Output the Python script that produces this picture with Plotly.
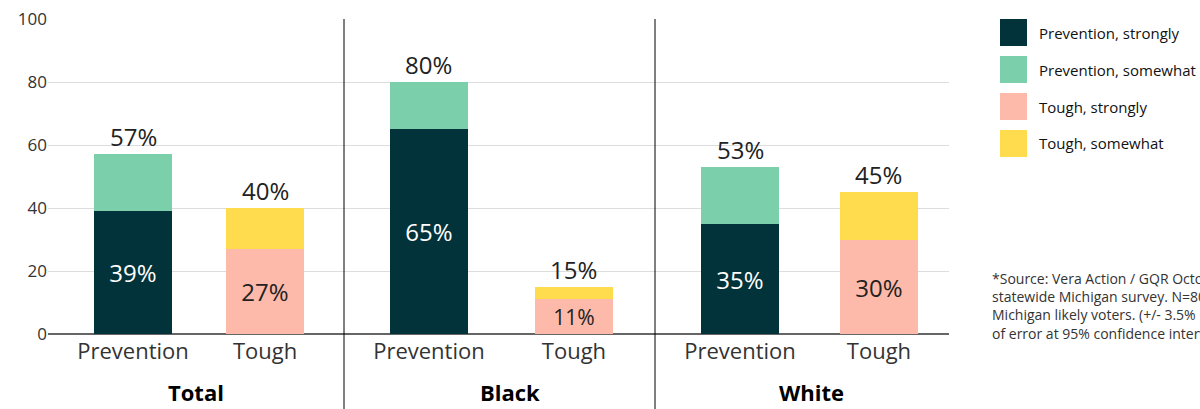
import plotly.graph_objects as go
from plotly.subplots import make_subplots

# Survey results: share preferring each approach, by group
groups = ["Total", "Black", "White"]
categories = ["Prevention", "Tough"]
prevention_strongly = [39, 65, 35]
prevention_total = [57, 80, 53]
tough_strongly = [27, 11, 30]
tough_total = [40, 15, 45]

series_names = ["Prevention, strongly", "Prevention, somewhat",
                "Tough, strongly", "Tough, somewhat"]
series_colors = ["#02323A", "#7BCFAB", "#FDB9A9", "#FEDC4E"]

y_ticks = [0, 20, 40, 60, 80, 100]

source_note = ("*Source: Vera Action / GQR October<br>"
               "statewide Michigan survey. N=800<br>"
               "Michigan likely voters. (+/- 3.5% margin<br>"
               "of error at 95% confidence interval)")

FONT = "Open Sans"
W, H = 1200, 409
L, R, T, B = 48, 251, 19, 75

# Pixel edges of the three panels, converted to paper fractions
panel_px = [48, 344, 655, 949]
pw = W - L - R
ph = H - T - B
edges = [(p - L) / pw for p in panel_px]
x_ranges = [[-0.644, 1.598], [-0.586, 1.559], [-0.612, 1.504]]
bar_widths = [0.59, 0.538, 0.56]
group_label_x = [0.5, 0.534, 0.534]


def py_to_paper(py):
    return (H - B - py) / ph


def px_to_paper(px):
    return (px - L) / pw


fig = make_subplots(rows=1, cols=3, shared_yaxes=True, horizontal_spacing=0)

for i, g in enumerate(groups):
    col = i + 1
    w = bar_widths[i]
    fig.add_trace(go.Bar(
        x=[categories[0]], y=[prevention_strongly[i]], width=w,
        marker=dict(color=series_colors[0], line=dict(width=0)),
        text=[f"{prevention_strongly[i]}%"], textposition="inside",
        insidetextanchor="middle", textangle=0,
        textfont=dict(family=FONT, size=24, color="#FFFFFF"),
        name=series_names[0], showlegend=False, hoverinfo="skip"), row=1, col=col)
    fig.add_trace(go.Bar(
        x=[categories[0]], y=[prevention_total[i] - prevention_strongly[i]], width=w,
        marker=dict(color=series_colors[1], line=dict(width=0)),
        name=series_names[1], showlegend=False, hoverinfo="skip"), row=1, col=col)
    fig.add_trace(go.Bar(
        x=[categories[1]], y=[tough_strongly[i]], width=w,
        marker=dict(color=series_colors[2], line=dict(width=0)),
        text=[f"{tough_strongly[i]}%"], textposition="inside",
        insidetextanchor="middle", textangle=0,
        textfont=dict(family=FONT, size=24, color="#222222"),
        name=series_names[2], showlegend=False, hoverinfo="skip"), row=1, col=col)
    fig.add_trace(go.Bar(
        x=[categories[1]], y=[tough_total[i] - tough_strongly[i]], width=w,
        marker=dict(color=series_colors[3], line=dict(width=0)),
        name=series_names[3], showlegend=False, hoverinfo="skip"), row=1, col=col)

    xa = "x" if i == 0 else f"x{col}"
    ya = "y" if i == 0 else f"y{col}"
    # Totals above each stacked bar
    for cat, tot in zip(categories, [prevention_total[i], tough_total[i]]):
        fig.add_annotation(x=cat, y=tot, xref=xa, yref=ya, text=f"{tot}%",
                           showarrow=False, yanchor="bottom", yshift=-1,
                           font=dict(family=FONT, size=24, color="#222222"))
    # Group name under the panel
    fig.add_annotation(x=group_label_x[i], y=py_to_paper(409), xref=f"{xa} domain",
                       yref="paper", text=f"<b>{g}</b>", showarrow=False,
                       yanchor="bottom",
                       font=dict(family=FONT, size=22, color="#000000"))

    fig.update_xaxes(row=1, col=col, type="category", categoryorder="array",
                     categoryarray=categories, range=x_ranges[i],
                     domain=[edges[i], edges[i + 1]], automargin=False,
                     showgrid=False, showline=False, ticks="",
                     ticklabelstandoff=2,
                     tickfont=dict(family=FONT, size=22, color="#333333"))
    fig.update_yaxes(row=1, col=col, range=[0, 100], tickvals=y_ticks,
                     domain=[0, 1], automargin=False,
                     showgrid=True, gridcolor="#DDDDDD", gridwidth=1,
                     zeroline=True, zerolinecolor="#666666", zerolinewidth=2,
                     showline=False, ticks="",
                     showticklabels=(i == 0),
                     tickfont=dict(family=FONT, size=17, color="#333333"))

# Vertical dividers between panels
for e in edges[1:3]:
    fig.add_shape(type="line", xref="paper", yref="paper",
                  x0=e, x1=e, y0=1, y1=py_to_paper(410),
                  line=dict(color="#000000", width=1))

# Legend drawn as square swatches with labels
for k, (nm, c) in enumerate(zip(series_names, series_colors)):
    top = 19 + 37 * k
    y0 = py_to_paper(top + 27)
    y1 = py_to_paper(top)
    fig.add_shape(type="rect", xref="paper", yref="paper",
                  x0=px_to_paper(1000), x1=px_to_paper(1027), y0=y0, y1=y1,
                  fillcolor=c, line=dict(width=0))
    fig.add_annotation(x=px_to_paper(1037), y=(y0 + y1) / 2, xref="paper", yref="paper",
                       text=nm, showarrow=False, xanchor="left", yanchor="middle",
                       font=dict(family=FONT, size=15, color="#111111"))

fig.add_annotation(x=px_to_paper(990), y=py_to_paper(306), xref="paper", yref="paper",
                   text=source_note, showarrow=False, xanchor="left", yanchor="middle",
                   align="left", font=dict(family=FONT, size=14, color="#333333"))

fig.update_layout(
    width=W, height=H, barmode="stack", bargap=0,
    margin=dict(l=L, r=R, t=T, b=B, autoexpand=False),
    paper_bgcolor="#FFFFFF", plot_bgcolor="#FFFFFF",
    showlegend=False,
    font=dict(family=FONT),
)

fig.write_html("out.html")
